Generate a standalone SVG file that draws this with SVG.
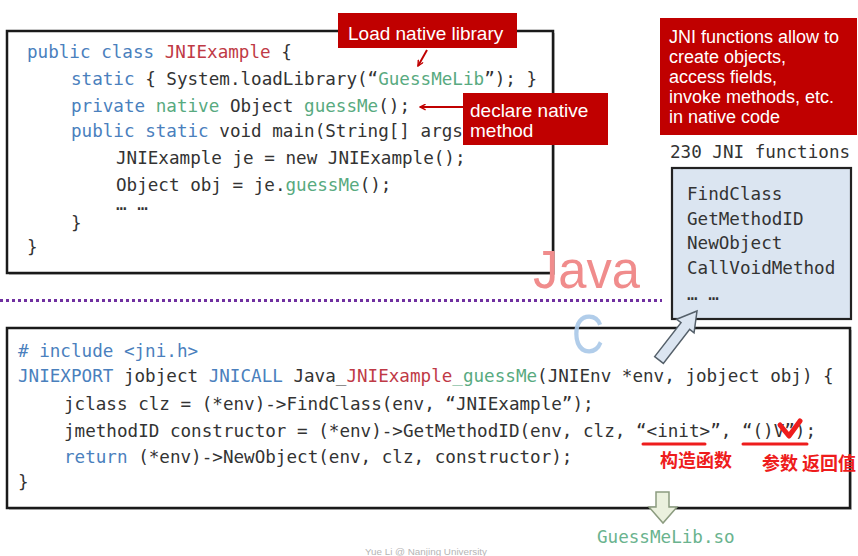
<svg xmlns="http://www.w3.org/2000/svg" width="858" height="556" viewBox="0 0 858 556">
<style>
.code{font-family:"DejaVu Sans Mono","Liberation Mono",monospace;font-size:17.6px;fill:#333333;white-space:pre}
.k{fill:#4a80bd}
.r{fill:#bf3a46}
.g{fill:#58aa80}
.box{fill:#ffffff;stroke:#1a1a1a;stroke-width:2.5}
.redbox{fill:#c00000}
.wt{font-family:"Liberation Sans",Arial,sans-serif;fill:#ffffff}
.cn{font-family:"Noto Sans CJK SC","Noto Sans",sans-serif;font-weight:bold;font-size:18px;fill:#ee1c1c}
.redline{stroke:#ee1c1c;stroke-width:3;stroke-linecap:round;fill:none}
</style>
<defs>
<marker id="ah" viewBox="0 0 10 10" refX="9" refY="5" markerWidth="7" markerHeight="7" orient="auto" markerUnits="userSpaceOnUse">
<path d="M1,1 L9,5 L1,9" fill="none" stroke="#c00000" stroke-width="2"/>
</marker>
</defs>
<rect width="858" height="556" fill="#ffffff"/>

<g id="java-box">
<rect x="9" y="33" width="546" height="242" fill="#c8c8c8"/>
<rect class="box" x="7" y="31" width="546" height="242"/>
<text class="code" xml:space="preserve" x="27" y="58"><tspan class="k">public class</tspan> <tspan class="r">JNIExample</tspan> {</text>
<text class="code" xml:space="preserve" x="71" y="85"><tspan class="k">static</tspan> { System.loadLibrary(“<tspan class="g">GuessMeLib</tspan>”); }</text>
<text class="code" xml:space="preserve" x="71" y="112"><tspan class="k">private</tspan> <tspan class="g">native</tspan> Object <tspan class="g">guessMe</tspan>();</text>
<text class="code" xml:space="preserve" x="71" y="137"><tspan class="k">public static</tspan> void main(String[] args</text>
<text class="code" xml:space="preserve" x="116" y="164">JNIExample je = new JNIExample();</text>
<text class="code" xml:space="preserve" x="116" y="191">Object obj = je.<tspan class="g">guessMe</tspan>();</text>
<text class="code" xml:space="preserve" x="116" y="210">… …</text>
<text class="code" xml:space="preserve" x="71" y="229">}</text>
<text class="code" xml:space="preserve" x="27" y="253">}</text>
</g>

<g id="java-label">
<text x="533" y="288" font-family="Liberation Sans,Arial,sans-serif" font-size="53" fill="#f08c8c" textLength="107" lengthAdjust="spacingAndGlyphs">Java</text>
<line x1="0" y1="300.5" x2="662" y2="300.5" stroke="#7030a0" stroke-width="3" stroke-dasharray="3 3"/>
</g>

<g id="load-note">
<rect class="redbox" x="338" y="13" width="179" height="35"/>
<text class="wt" x="348" y="40" font-size="19">Load native library</text>
</g>

<g id="declare-note">
<rect class="redbox" x="463" y="93" width="145" height="52"/>
<text class="wt" x="470" y="116.5" font-size="19">declare native</text>
<text class="wt" x="470" y="136.5" font-size="19">method</text>
</g>

<g id="jni-note">
<rect class="redbox" x="660" y="18" width="197" height="117"/>
<text class="wt" font-size="18"><tspan x="669" y="43">JNI functions allow to</tspan><tspan x="669" y="63">create objects,</tspan><tspan x="669" y="83">access fields,</tspan><tspan x="669" y="103">invoke methods, etc.</tspan><tspan x="669" y="123">in native code</tspan></text>
</g>

<g id="jni-list">
<text class="code" x="670" y="158">230 JNI functions</text>
<rect x="672" y="168" width="179" height="151" fill="#dbe5f1" stroke="#222222" stroke-width="2.2"/>
<text class="code" x="687" y="200">FindClass</text>
<text class="code" x="687" y="225">GetMethodID</text>
<text class="code" x="687" y="249">NewObject</text>
<text class="code" x="687" y="274">CallVoidMethod</text>
<text class="code" xml:space="preserve" x="687" y="300">… …</text>
</g>

<g id="c-box">
<rect x="9" y="330" width="843" height="180" fill="#c8c8c8"/>
<rect class="box" x="7" y="328" width="843" height="180"/>
<text class="code" xml:space="preserve" x="18" y="357"><tspan class="k"># include &lt;jni.h&gt;</tspan></text>
<text class="code" xml:space="preserve" x="18" y="382"><tspan class="k">JNIEXPORT</tspan> jobject <tspan class="k">JNICALL</tspan> Java_<tspan class="r">JNIExample</tspan><tspan class="g">_guessMe</tspan>(JNIEnv *env, jobject obj) {</text>
<text class="code" xml:space="preserve" x="64" y="410">jclass clz = (*env)-&gt;FindClass(env, “JNIExample”);</text>
<text class="code" xml:space="preserve" x="64" y="437">jmethodID constructor = (*env)-&gt;GetMethodID(env, clz, “&lt;init&gt;”, “()V”);</text>
<text class="code" xml:space="preserve" x="64" y="463"><tspan class="k">return</tspan> (*env)-&gt;NewObject(env, clz, constructor);</text>
<text class="code" xml:space="preserve" x="18" y="488">}</text>
</g>

<g id="c-label">
<text x="572" y="353" font-family="Liberation Sans,Arial,sans-serif" font-size="56" fill="#a9c8e8" fill-opacity="0.9" textLength="32" lengthAdjust="spacingAndGlyphs">C</text>
</g>

<g id="annotations">
<line class="redline" x1="643" y1="444" x2="705" y2="444"/>
<line class="redline" x1="743" y1="444" x2="807" y2="444"/>
<path d="M780,425 L789,436 L800,421" fill="none" stroke="#ee1c1c" stroke-width="5" stroke-linecap="round" stroke-linejoin="round"/>
<text class="cn" x="660" y="467">构造函数</text>
<text class="cn" x="762" y="470">参数 返回值</text>
</g>

<g id="output">
<text class="code" x="597" y="543" style="fill:#6ab38e">GuessMeLib.so</text>
</g>

<g id="connectors">
<line x1="427" y1="50" x2="418" y2="66" stroke="#c00000" stroke-width="2" marker-end="url(#ah)"/>
<line x1="463" y1="107" x2="420" y2="107" stroke="#c00000" stroke-width="2" marker-end="url(#ah)"/>
<polygon transform="translate(659,360) rotate(-52.2)" points="0,-5.5 43,-5.5 43,-11 62,0 43,11 43,5.5 0,5.5" fill="#dbe5f1" stroke="#55606a" stroke-width="1.5" stroke-linejoin="miter"/>
<polygon points="656,492 669,492 669,507 677,507 663,523 649,507 656,507" fill="#ebf1de" stroke="#8c9c80" stroke-width="1.5"/>
</g>

<text x="365" y="555" font-family="Liberation Sans,Arial,sans-serif" font-size="9.5" fill="#b5b5b5" textLength="122" lengthAdjust="spacingAndGlyphs">Yue Li @ Nanjing University</text>
</svg>
